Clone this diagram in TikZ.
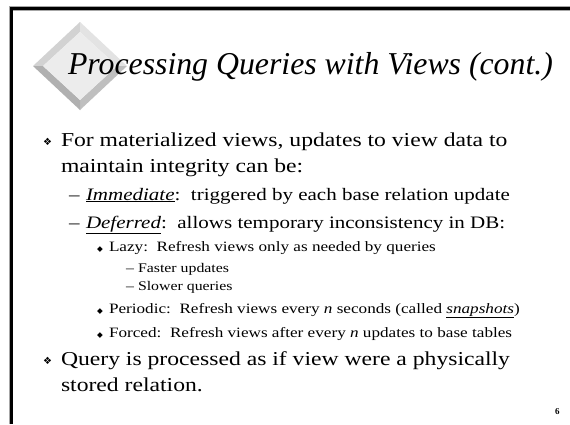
\documentclass[tikz,border=0pt]{standalone}
\usepackage{fontspec}
\setmainfont{Liberation Serif}
\newfontfamily\bodyfont[FakeStretch=1.2]{Liberation Serif}
\newfontfamily\symfont{DejaVu Sans}
\begin{document}
\begin{tikzpicture}[x=1bp,y=-1bp,
  txt/.style={anchor=base west, inner sep=0pt, outer sep=0pt},
  titletxt/.style={txt, font=\fontsize{31.8bp}{36bp}\selectfont\itshape},
  lvA/.style={txt, font=\bodyfont\fontsize{19.7bp}{23bp}\selectfont},
  lvB/.style={txt, font=\bodyfont\fontsize{17.5bp}{20bp}\selectfont},
  lvC/.style={txt, font=\bodyfont\fontsize{14.3bp}{17bp}\selectfont},
  lvD/.style={txt, font=\bodyfont\fontsize{13.2bp}{15bp}\selectfont},
  bulA/.style={txt, font=\symfont\fontsize{10bp}{12bp}\selectfont},
  bulC/.style={txt, font=\symfont\fontsize{7.5bp}{10bp}\selectfont},
  pagenum/.style={txt, font=\fontsize{9bp}{11bp}\selectfont\bfseries}]
\useasboundingbox (0,0) rectangle (570,424);
\fill[white] (0,0) rectangle (570,424);

% slide frame: top and left rules
\draw[gray!70, line width=4.5bp] (11,424) -- (11,8.5) -- (570,8.5);
\draw[black, line width=3bp] (11,424) -- (11,8.5) -- (570,8.5);

% bevelled diamond behind the title
\coordinate (oT) at (80,22);
\coordinate (oR) at (127,66);
\coordinate (oB) at (80,110);
\coordinate (oL) at (33,66);
\coordinate (iT) at (80,32);
\coordinate (iR) at (117,66);
\coordinate (iB) at (80,100);
\coordinate (iL) at (43,66);
\fill[gray!35] (oL) -- (oT) -- (iT) -- (iL) -- cycle;
\fill[gray!22] (oT) -- (oR) -- (iR) -- (iT) -- cycle;
\fill[gray!50] (oR) -- (oB) -- (iB) -- (iR) -- cycle;
\fill[gray!62] (oB) -- (oL) -- (iL) -- (iB) -- cycle;
\fill[gray!15] (iT) -- (iR) -- (iB) -- (iL) -- cycle;

% title
\node[titletxt] (title) at (68,74) {Processing Queries with Views (cont.)};

% first bullet
\node[bulA] (b1) at (43,145) {❖};
\node[lvA] (t1) at (61,146) {For materialized views, updates to view data to};
\node[lvA] (t1b) at (61,172) {maintain integrity can be:};

\node[lvB] (d1) at (69,200) {–};
\node[lvB] (t2) at (86,200) {\underline{\textit{Immediate}}:\ \ triggered by each base relation update};
\node[lvB] (d2) at (69,228) {–};
\node[lvB] (t3) at (86,228) {\underline{\textit{Deferred}}:\ \ allows temporary inconsistency in DB:};

\node[bulC] (b2) at (97,251) {◆};
\node[lvC] (t4) at (109,251) {Lazy:\ \ Refresh views only as needed by queries};
\node[lvD] (d3) at (126,272) {–};
\node[lvD] (t5) at (138,272) {Faster updates};
\node[lvD] (d4) at (126,290) {–};
\node[lvD] (t6) at (138,290) {Slower queries};
\node[bulC] (b3) at (97,313) {◆};
\node[lvC] (t7) at (109,313) {Periodic:\ \ Refresh views every \textit{n} seconds (called \underline{\textit{snapshots}})};
\node[bulC] (b4) at (97,337) {◆};
\node[lvC] (t8) at (109,337) {Forced:\ \ Refresh views after every \textit{n} updates to base tables};

% second bullet
\node[bulA] (b5) at (43,364) {❖};
\node[lvA] (t9) at (61,365) {Query is processed as if view were a physically};
\node[lvA] (t9b) at (61,391) {stored relation.};

% page number
\node[pagenum] (pg) at (555,414) {6};
\end{tikzpicture}
\end{document}
